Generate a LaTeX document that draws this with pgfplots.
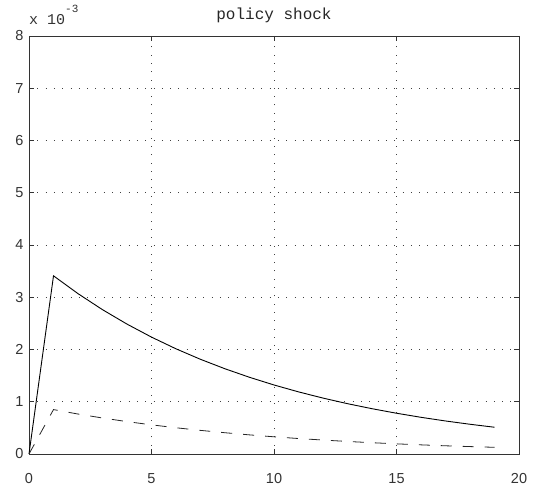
\documentclass[border=0pt]{standalone}
\usepackage{pgfplots}
\pgfplotsset{compat=1.18}
\usepackage{fontspec}
\setmainfont{Liberation Sans}
\newfontfamily\monofont{Liberation Mono}
\begin{document}
\begin{tikzpicture}
\begin{axis}[
  width=490pt, height=418pt, scale only axis,
  xmin=0, xmax=20, ymin=0, ymax=8,
  xtick={0,5,10,15,20}, ytick={0,1,2,3,4,5,6,7,8},
  grid=major,
  major grid style={black!75, line width=0.6pt, dash pattern=on 0.9pt off 7.4pt},
  tick align=inside, major tick length=5pt,
  axis line style={line width=0.8pt, black!80},
  tick style={black!80, line width=0.8pt},
  ticklabel style={font=\fontsize{14.5}{16}\selectfont, text=black!80},
  /pgf/number format/assume math mode=true,
  xticklabel style={yshift=-16pt},
  yticklabel style={xshift=-2pt},
  title={\monofont\fontsize{16}{18}\selectfont policy shock},
  title style={at={(0.5,1)}, anchor=base, yshift=10pt, text=black!85},
  clip=false,
]
\addplot[black, line width=0.9pt] coordinates {
(0,0) (1,3.410) (2,3.069) (3,2.762) (4,2.486) (5,2.237) (6,2.013) (7,1.812)
(8,1.631) (9,1.468) (10,1.321) (11,1.189) (12,1.070) (13,0.963) (14,0.867)
(15,0.780) (16,0.702) (17,0.632) (18,0.569) (19,0.512)};
\addplot[black!85, line width=0.8pt, dash pattern=on 11pt off 11pt] coordinates {
(0,0) (1,0.850) (2,0.765) (3,0.689) (4,0.620) (5,0.558) (6,0.502) (7,0.452)
(8,0.407) (9,0.366) (10,0.329) (11,0.296) (12,0.267) (13,0.240) (14,0.216)
(15,0.194) (16,0.175) (17,0.157) (18,0.142) (19,0.128)};
\node[anchor=base west, inner sep=0pt, yshift=11pt, text=black!80] at (rel axis cs:0,1)
  {\monofont\fontsize{15}{17}\selectfont x 10\raisebox{12pt}{\fontsize{11}{12}\selectfont -3}};
\end{axis}
\path ([shift={(-29pt,-34pt)}]current axis.south west) rectangle ([shift={(26pt,36pt)}]current axis.north east);
\end{tikzpicture}
\end{document}
